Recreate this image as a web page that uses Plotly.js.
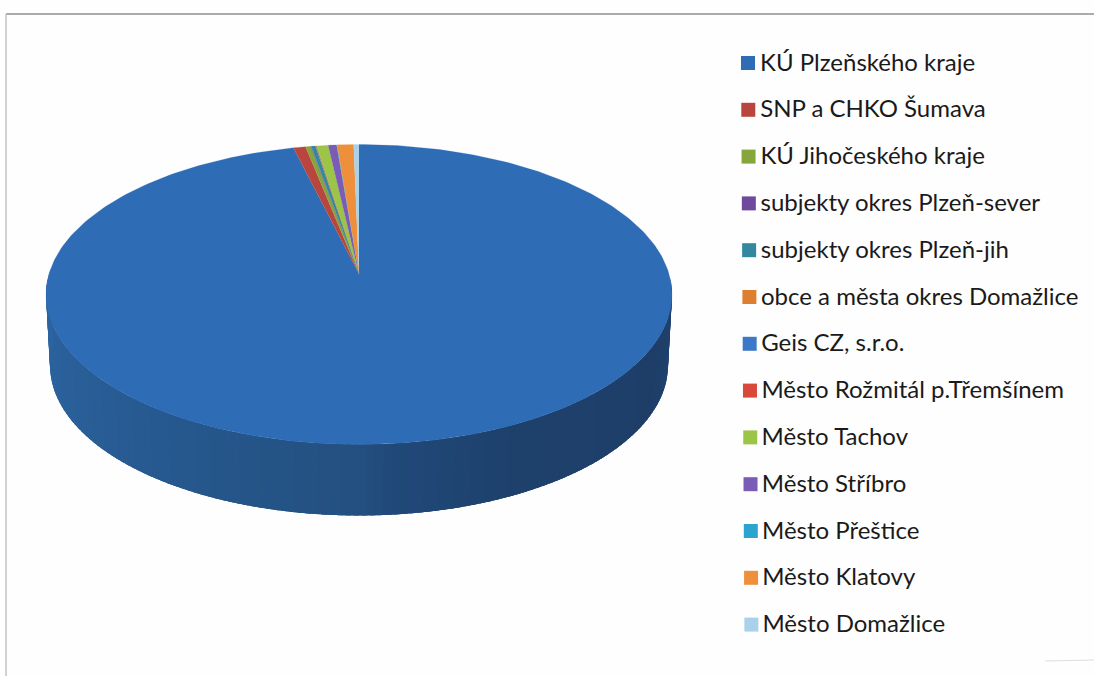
<!DOCTYPE html>
<html><head><meta charset="utf-8">
<script src="https://cdn.plot.ly/plotly-3.0.1.min.js"></script>
<style>html,body{margin:0;padding:0;background:#fefefe}#c{width:1094px;height:676px}</style>
</head><body><div id="c"></div>
<script>
const categories = ["KÚ Plzeňského kraje","SNP a CHKO Šumava","KÚ Jihočeského kraje","subjekty okres Plzeň-sever","subjekty okres Plzeň-jih","obce a města okres Domažlice","Geis CZ, s.r.o.","Město Rožmitál p.Třemšínem","Město Tachov","Město Stříbro","Město Přeštice","Město Klatovy","Město Domažlice"];
const values = [96.64,0.63,0.26,0.03,0.22,0.02,0.02,0.02,0.59,0.43,0.03,0.84,0.27];
const colors = ["#2e6cb6","#b8463f","#86a53a","#6f4a9c","#35879f","#dc7f31","#3c78c8","#d9483b","#9cc548","#7a5bb5","#2da3cf","#ee8f3c","#a9d2ea"];

const cx=359, cy=294.5, a=313, b=150, apexY=274, depth=71, bottomShrink=4;
const rad=d=>d*Math.PI/180;
const traces=[];

// side wall: shaded strips, angle measured clockwise from 12 o'clock
const wall=[[90,[31,66,110]],[110,[30,62,104]],[150,[30,65,108]],[172,[32,72,120]],[180,[35,80,128]],[215,[38,88,142]],[250,[42,96,154]],[270,[44,100,160]]];
function wallColor(t){
  for(let i=0;i<wall.length-1;i++){
    if(t<=wall[i+1][0]){
      const f=(t-wall[i][0])/(wall[i+1][0]-wall[i][0]);
      const c=wall[i][1].map((v,k)=>Math.round(v+(wall[i+1][1][k]-v)*f));
      return `rgb(${c})`;
    }
  }
  return `rgb(${wall[wall.length-1][1]})`;
}
const wallStep=1.5, wallOverlap=4;
for(let t=84;t<276;t+=wallStep){
  const xs=[],ys=[];
  for(let q=t;q<=t+wallOverlap+0.01;q+=0.8){xs.push(cx+a*Math.sin(rad(q)));ys.push(cy-b*Math.cos(rad(q)));}
  for(let q=t+wallOverlap;q>=t-0.01;q-=0.8){xs.push(cx+(a-bottomShrink)*Math.sin(rad(q)));ys.push(cy+depth-b*Math.cos(rad(q)));}
  traces.push({x:xs,y:ys,mode:"lines",fill:"toself",fillcolor:wallColor(t),line:{width:0},hoverinfo:"skip",showlegend:false});
}

// top face slices, first slice starts at 12 o'clock and runs clockwise
const total=values.reduce((s,v)=>s+v,0);
let start=0;
values.forEach((v,i)=>{
  const sweep=v/total*360, xs=[cx], ys=[apexY], n=Math.max(2,Math.ceil(sweep));
  for(let k=0;k<=n;k++){const q=start+sweep*k/n;xs.push(cx+a*Math.sin(rad(q)));ys.push(cy-b*Math.cos(rad(q)));}
  traces.push({x:xs,y:ys,mode:"lines",fill:"toself",fillcolor:colors[i],line:{color:colors[i],width:0.2},name:categories[i],hoverinfo:"name",showlegend:false});
  start+=sweep;
});

// key: swatch and label rows
const rowY=categories.map((_,i)=>63+i*46.8);
const swatchX=categories.map((_,i)=>748+i*0.28);
const labelX=categories.map((_,i)=>760+i*0.2);
const labelY=rowY.map(y=>y+1.5);
traces.push({x:swatchX,y:rowY,mode:"markers",marker:{symbol:"square",size:14,color:colors,line:{width:0}},hoverinfo:"skip",showlegend:false,cliponaxis:false});
traces.push({x:labelX,y:labelY,mode:"text",text:categories,textposition:"middle right",
  textfont:{family:"Lato, 'Open Sans', sans-serif",size:24,color:"#1a1a1a"},hoverinfo:"skip",showlegend:false,cliponaxis:false});

const layout={width:1094,height:676,margin:{l:0,r:0,t:0,b:0},paper_bgcolor:"#fefefe",plot_bgcolor:"#fefefe",showlegend:false,
  xaxis:{range:[0,1094],visible:false,fixedrange:true},
  yaxis:{range:[676,0],visible:false,fixedrange:true},
  shapes:[
    {type:"line",xref:"x",yref:"y",x0:6,x1:1094,y0:14,y1:14,line:{color:"#8f8f92",width:1.6}},
    {type:"line",xref:"x",yref:"y",x0:6,x1:6,y0:14,y1:676,line:{color:"#c4c8c6",width:1.6}},
    {type:"line",xref:"x",yref:"y",x0:1045,x1:1094,y0:661,y1:660,line:{color:"#dddddd",width:1}}
  ]};
Plotly.newPlot("c",traces,layout,{displayModeBar:false,staticPlot:true});
</script></body></html>
